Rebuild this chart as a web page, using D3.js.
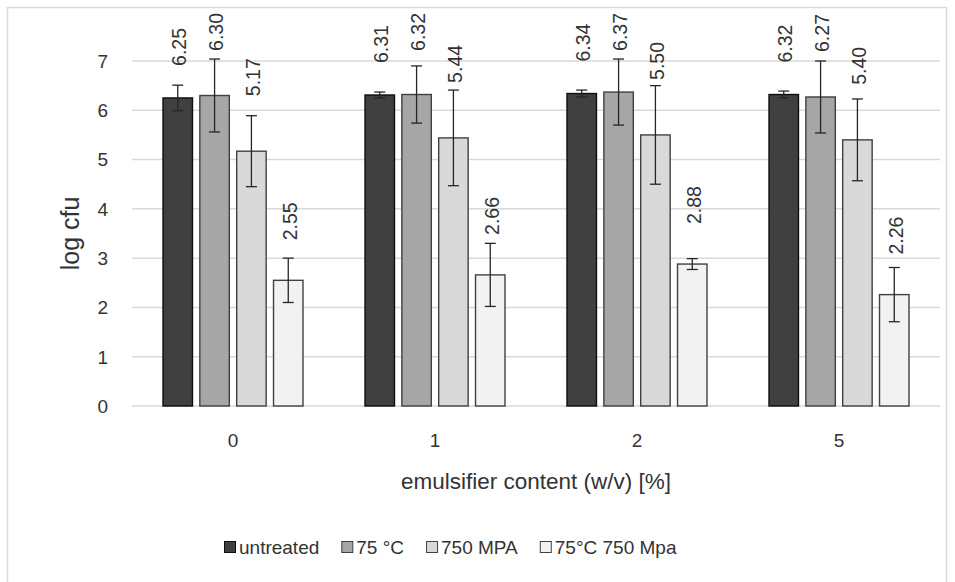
<!DOCTYPE html>
<html>
<head>
<meta charset="utf-8">
<script src="https://cdn.jsdelivr.net/npm/d3@7"></script>
<style>
  body { margin: 0; background: #fff; }
  text { font-family: "Liberation Sans", Arial, sans-serif; fill: #333; }
</style>
</head>
<body>
<svg id="chart" width="955" height="582"></svg>
<script>
// data
var categories = ["0", "1", "2", "5"];
var series = ["untreated", "75 °C", "750 MPA", "75°C 750 Mpa"];

var untreated = [6.25, 6.31, 6.34, 6.32];
var heat75 = [6.30, 6.32, 6.37, 6.27];
var mpa750 = [5.17, 5.44, 5.50, 5.40];
var combined = [2.55, 2.66, 2.88, 2.26];

var untreatedSd = [0.26, 0.06, 0.07, 0.07];
var heat75Sd = [0.74, 0.58, 0.67, 0.73];
var mpa750Sd = [0.72, 0.97, 1.00, 0.83];
var combinedSd = [0.45, 0.64, 0.11, 0.55];

var yTicks = [0, 1, 2, 3, 4, 5, 6, 7];

// styles per series
var fills = ["#404040", "#a6a6a6", "#d9d9d9", "#f2f2f2"];
var strokes = ["#0d0d0d", "#404040", "#404040", "#404040"];
var labelGap = [32, 45, 55, 40];   // label distance above bar top (px)

var means = [untreated, heat75, mpa750, combined];
var sds = [untreatedSd, heat75Sd, mpa750Sd, combinedSd];

var rows = [];
categories.forEach(function(c, ci) {
  series.forEach(function(s, si) {
    rows.push({cat: c, ser: s, si: si, value: means[si][ci], sd: sds[si][ci]});
  });
});

var svg = d3.select("#chart");

// outer frame
svg.append("rect")
  .attr("x", 7.5).attr("y", 7.5)
  .attr("width", 939).attr("height", 590)
  .attr("fill", "none")
  .attr("stroke", "#d9d9d9")
  .attr("stroke-width", 1.5);

var plotLeft = 132, plotRight = 940, plotTop = 61, plotBottom = 406;

var x = d3.scaleBand()
  .domain(categories)
  .range([plotLeft, plotRight])
  .paddingInner(0.307)
  .paddingOuter(0.1535);

var x1 = d3.scaleBand()
  .domain(series)
  .range([0, x.bandwidth()])
  .paddingInner(0.2)
  .paddingOuter(0);

var y = d3.scaleLinear()
  .domain([0, 7])
  .range([plotBottom, plotTop]);

// gridlines
svg.append("g")
  .selectAll("line")
  .data(yTicks)
  .enter()
  .append("line")
    .attr("x1", plotLeft).attr("x2", plotRight)
    .attr("y1", function(d) { return y(d); })
    .attr("y2", function(d) { return y(d); })
    .attr("stroke", "#d9d9d9")
    .attr("stroke-width", 1.5);

// y tick labels
svg.append("g")
  .selectAll("text")
  .data(yTicks)
  .enter()
  .append("text")
    .attr("x", 108)
    .attr("y", function(d) { return y(d); })
    .attr("dy", "0.36em")
    .attr("text-anchor", "end")
    .attr("font-size", 19)
    .text(function(d) { return d; });

// x tick labels
svg.append("g")
  .selectAll("text")
  .data(categories)
  .enter()
  .append("text")
    .attr("x", function(d) { return x(d) + x.bandwidth() / 2; })
    .attr("y", 447)
    .attr("text-anchor", "middle")
    .attr("font-size", 19)
    .text(function(d) { return d; });

// axis titles
svg.append("text")
  .attr("x", (plotLeft + plotRight) / 2)
  .attr("y", 489)
  .attr("text-anchor", "middle")
  .attr("font-size", 22.5)
  .text("emulsifier content (w/v) [%]");

svg.append("text")
  .attr("transform", "translate(79," + ((plotTop + plotBottom) / 2) + ") rotate(-90)")
  .attr("text-anchor", "middle")
  .attr("font-size", 25)
  .text("log cfu");

// bars
var groups = svg.append("g")
  .selectAll("g")
  .data(rows)
  .enter()
  .append("g")
    .attr("transform", function(d) { return "translate(" + (x(d.cat) + x1(d.ser)) + ",0)"; });

groups.append("rect")
  .attr("x", 0)
  .attr("y", function(d) { return y(d.value); })
  .attr("width", x1.bandwidth())
  .attr("height", function(d) { return plotBottom - y(d.value); })
  .attr("fill", function(d) { return fills[d.si]; })
  .attr("stroke", function(d) { return strokes[d.si]; })
  .attr("stroke-width", 1.4);

// error bars
var bw = x1.bandwidth(), cap = 5.5;
groups.append("line")
  .attr("x1", bw / 2).attr("x2", bw / 2)
  .attr("y1", function(d) { return y(d.value + d.sd); })
  .attr("y2", function(d) { return y(d.value - d.sd); })
  .attr("stroke", "#262626").attr("stroke-width", 1.3);
groups.append("line")
  .attr("x1", bw / 2 - cap).attr("x2", bw / 2 + cap)
  .attr("y1", function(d) { return y(d.value + d.sd); })
  .attr("y2", function(d) { return y(d.value + d.sd); })
  .attr("stroke", "#262626").attr("stroke-width", 1.3);
groups.append("line")
  .attr("x1", bw / 2 - cap).attr("x2", bw / 2 + cap)
  .attr("y1", function(d) { return y(d.value - d.sd); })
  .attr("y2", function(d) { return y(d.value - d.sd); })
  .attr("stroke", "#262626").attr("stroke-width", 1.3);

// value labels (rotated), kept inside the frame
groups.append("text")
  .attr("font-family", "DejaVu Sans, sans-serif")
  .attr("font-size", 19.5)
  .attr("fill", "#222")
  .attr("dy", "0.36em")
  .text(function(d) { return d.value.toFixed(2); })
  .each(function(d) {
    var len = this.getComputedTextLength();
    var yb = y(d.value) - labelGap[d.si];
    if (yb - len < 13) yb = 13 + len;
    d3.select(this).attr("transform", "translate(" + (bw / 2 + 1.5) + "," + yb + ") rotate(-90)");
  });

// legend
var legend = svg.append("g").attr("transform", "translate(224,547)");
var lx = 0;
series.forEach(function(s, i) {
  legend.append("rect")
    .attr("x", lx + 0.5).attr("y", -5.5)
    .attr("width", 11).attr("height", 11)
    .attr("fill", fills[i])
    .attr("stroke", strokes[i])
    .attr("stroke-width", 1);
  var t = legend.append("text")
    .attr("x", lx + 15)
    .attr("dy", "0.36em")
    .attr("font-size", 19)
    .text(s);
  lx += 15 + t.node().getComputedTextLength() + 22;
});
</script>
</body>
</html>
